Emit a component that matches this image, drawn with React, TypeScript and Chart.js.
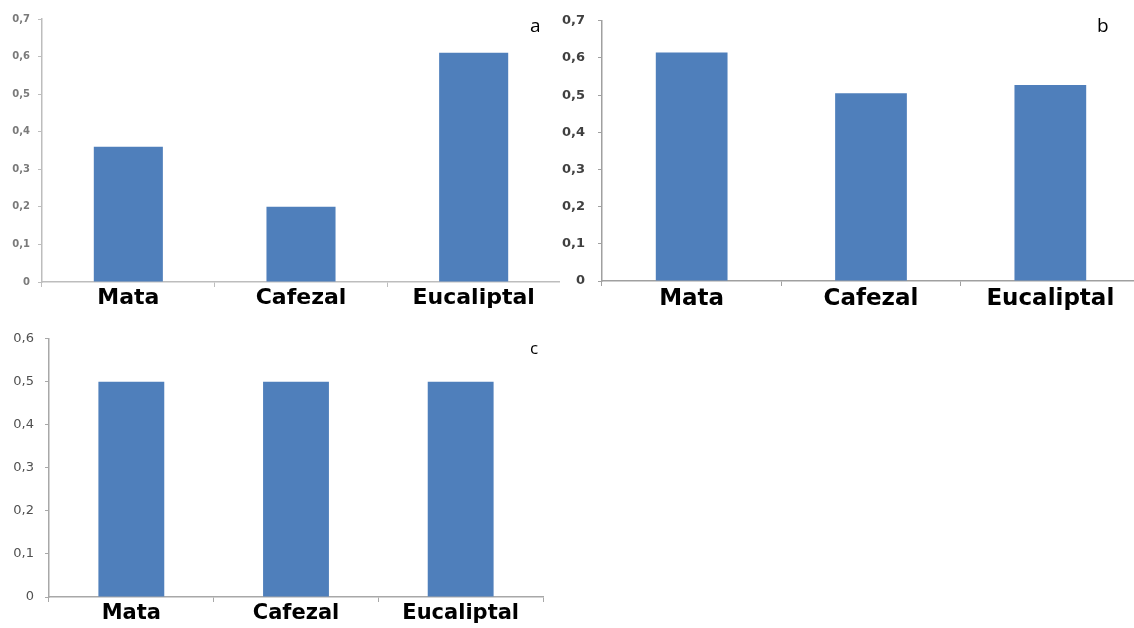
import React, { useEffect, useRef } from 'react';
import { Chart, registerables } from 'chart.js';

Chart.register(...registerables);

const categories = ['Mata', 'Cafezal', 'Eucaliptal'];
const valuesA = [0.36, 0.2, 0.61];
const valuesB = [0.615, 0.505, 0.527];
const valuesC = [0.5, 0.5, 0.5];
const ticksA = ['0', '0,1', '0,2', '0,3', '0,4', '0,5', '0,6', '0,7'];
const ticksB = ['0', '0,1', '0,2', '0,3', '0,4', '0,5', '0,6', '0,7'];
const ticksC = ['0', '0,1', '0,2', '0,3', '0,4', '0,5', '0,6'];
const maxA = 0.7;
const maxB = 0.7;
const maxC = 0.6;

const BAR = '#4F7FBB';

type PanelProps = {
  values: number[];
  tickLabels: string[];
  max: number;
  left: number;
  top: number;
  width: number;
  height: number;
  padTop: number;
  padRight: number;
  yWidth: number;
  xHeight: number;
  barPct: number;
  catFont: number;
  catPad: number;
  tickFont: number;
  tickWeight: string;
  tickColor: string;
  tickPad: number;
  axisColor: string;
};

function Panel(p: PanelProps) {
  const ref = useRef<HTMLCanvasElement | null>(null);
  useEffect(() => {
    if (!ref.current) return;
    const chart = new Chart(ref.current, {
      type: 'bar',
      data: {
        labels: categories,
        datasets: [
          {
            data: p.values,
            backgroundColor: BAR,
            borderWidth: 0,
            barPercentage: p.barPct,
            categoryPercentage: 1,
          },
        ],
      },
      options: {
        animation: false,
        responsive: false,
        maintainAspectRatio: false,
        layout: { padding: { top: p.padTop, right: p.padRight, left: 0, bottom: 0 } },
        plugins: {
          legend: { display: false },
          tooltip: { enabled: false },
          title: { display: false },
        },
        scales: {
          x: {
            grid: {
              display: true,
              drawOnChartArea: false,
              drawTicks: true,
              tickLength: 5,
              color: p.axisColor,
              offset: true,
            },
            border: { display: true, color: p.axisColor, width: 1.5 },
            ticks: {
              font: { family: 'DejaVu Sans', size: p.catFont, weight: 'bold' },
              color: '#000',
              padding: p.catPad,
              maxRotation: 0,
              autoSkip: false,
            },
            afterFit: (s: any) => {
              s.height = p.xHeight;
            },
          },
          y: {
            min: 0,
            max: p.max,
            grid: {
              display: true,
              drawOnChartArea: false,
              drawTicks: true,
              tickLength: 4,
              color: p.axisColor,
            },
            border: { display: true, color: p.axisColor, width: 1.5 },
            ticks: {
              stepSize: 0.1,
              callback: (_v: any, i: number) => p.tickLabels[i],
              font: { family: 'DejaVu Sans', size: p.tickFont, weight: p.tickWeight as any },
              color: p.tickColor,
              padding: p.tickPad,
            },
            afterFit: (s: any) => {
              s.width = p.yWidth;
            },
          },
        },
      },
    });
    return () => chart.destroy();
  }, []);
  return (
    <canvas
      ref={ref}
      width={p.width}
      height={p.height}
      style={{ position: 'absolute', left: p.left, top: p.top, width: p.width, height: p.height }}
    />
  );
}

const letterStyle = (left: number, top: number, size: number): React.CSSProperties => ({
  position: 'absolute',
  left,
  top,
  fontFamily: '"Open Sans", sans-serif',
  fontSize: size,
  lineHeight: 1,
  color: '#000',
});

export default function App() {
  return (
    <div
      style={{
        position: 'fixed',
        left: 0,
        top: 0,
        width: 1134,
        height: 628,
        background: '#fff',
        overflow: 'hidden',
      }}
    >
      <Panel
        values={valuesA}
        tickLabels={ticksA}
        max={maxA}
        left={0}
        top={0}
        width={560}
        height={320}
        padTop={19}
        padRight={0}
        yWidth={42}
        xHeight={38}
        barPct={0.4}
        catFont={22}
        catPad={-2}
        tickFont={10}
        tickWeight="bold"
        tickColor="#7a7a7a"
        tickPad={8}
        axisColor="#BDBDBD"
      />
      <Panel
        values={valuesB}
        tickLabels={ticksB}
        max={maxB}
        left={560}
        top={0}
        width={580}
        height={320}
        padTop={20}
        padRight={0}
        yWidth={42}
        xHeight={39}
        barPct={0.4}
        catFont={23}
        catPad={-1}
        tickFont={13}
        tickWeight="bold"
        tickColor="#404040"
        tickPad={13}
        axisColor="#A0A0A0"
      />
      <Panel
        values={valuesC}
        tickLabels={ticksC}
        max={maxC}
        left={0}
        top={320}
        width={560}
        height={308}
        padTop={18}
        padRight={17}
        yWidth={49}
        xHeight={31}
        barPct={0.4}
        catFont={21}
        catPad={-1}
        tickFont={13}
        tickWeight="normal"
        tickColor="#505050"
        tickPad={11}
        axisColor="#A8A8A8"
      />
      <div style={letterStyle(530, 16, 19)}>a</div>
      <div style={letterStyle(1097, 16, 19)}>b</div>
      <div style={letterStyle(530, 339, 17)}>c</div>
    </div>
  );
}
